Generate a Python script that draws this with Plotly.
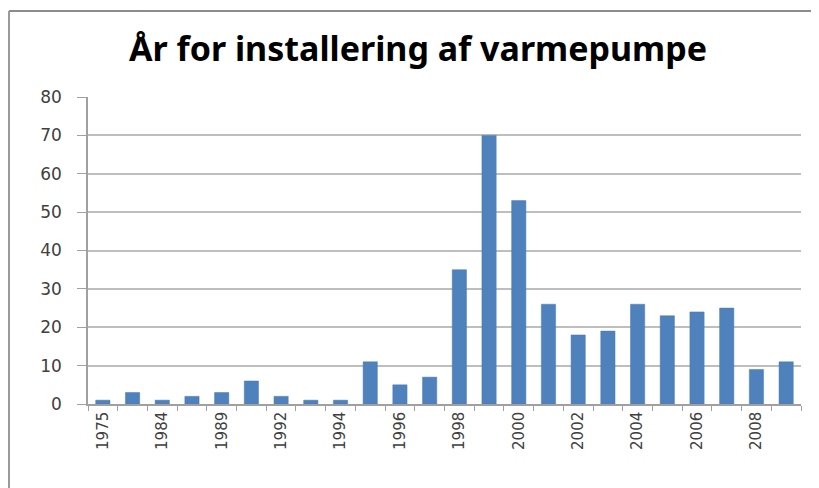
import plotly.graph_objects as go

years = ["1975", "1980", "1984", "1986", "1989", "1990", "1992", "1993", "1994", "1995",
         "1996", "1997", "1998", "1999", "2000", "2001", "2002", "2003", "2004", "2005",
         "2006", "2007", "2008", "2009"]
counts = [1, 3, 1, 2, 3, 6, 2, 1, 1, 11, 5, 7, 35, 70, 53, 26, 18, 19, 26, 23, 24, 25, 9, 11]
shown_labels = ["1975", "1984", "1989", "1992", "1994", "1996", "1998", "2000", "2002",
                "2004", "2006", "2008"]
y_ticks = [0, 10, 20, 30, 40, 50, 60, 70, 80]

tick_text = [y if y in shown_labels else "" for y in years]

# page body has an 8px margin, so the figure is offset by (8, 8)
W, H = 811, 480
L, R, T, B = 80, 18, 89, 84
PW, PH = W - L - R, H - T - B

fig = go.Figure()
fig.add_trace(go.Bar(
    x=years, y=counts,
    marker=dict(color="#4F81BD", line=dict(color="#4A7CB6", width=0.5)),
    width=0.48,
))

fig.update_layout(
    width=W, height=H,
    margin=dict(l=L, r=R, t=T, b=B, autoexpand=False),
    paper_bgcolor="white", plot_bgcolor="white",
    showlegend=False,
    title=dict(text="<b>År for installering af varmepumpe</b>",
               x=(418 - 8) / W, xanchor="center", y=1 - 41 / H, yanchor="middle",
               font=dict(family="Noto Sans", size=34, color="#000000")),
    font=dict(family="DejaVu Sans", color="#404040"),
)
fig.update_xaxes(
    type="category", categoryorder="array", categoryarray=years,
    tickmode="array", tickvals=years, ticktext=tick_text,
    tickangle=-90, tickfont=dict(family="DejaVu Sans", size=15, color="#404040"),
    ticks="outside", tickson="boundaries", ticklen=5, tickcolor="#A0A0A0",
    showline=True, linecolor="#A0A0A0", linewidth=1.5,
    showgrid=False, range=[-0.5, len(years) - 0.5], automargin=False,
)
fig.update_yaxes(
    range=[0, 80], tickmode="array", tickvals=y_ticks,
    tickfont=dict(family="DejaVu Sans", size=17, color="#404040"),
    ticks="outside", ticklen=9, tickcolor="#A0A0A0", ticklabelstandoff=12,
    showline=True, linecolor="#A0A0A0", linewidth=1.5,
    showgrid=True, gridcolor="#BEBEBE", gridwidth=1.5,
    zeroline=False, automargin=False,
)
# chart frame (top and left edges visible in the crop)
top_y = (H - B - 3) / PH
left_x = (1 - L) / PW
fig.add_shape(type="line", xref="paper", yref="paper",
              x0=left_x, x1=(W - L + 5) / PW, y0=top_y, y1=top_y,
              line=dict(color="#8C8C8C", width=2))
fig.add_shape(type="line", xref="paper", yref="paper",
              x0=left_x, x1=left_x, y0=-(B + 5) / PH, y1=top_y,
              line=dict(color="#9A9A9A", width=2))

fig.write_html("out.html")
